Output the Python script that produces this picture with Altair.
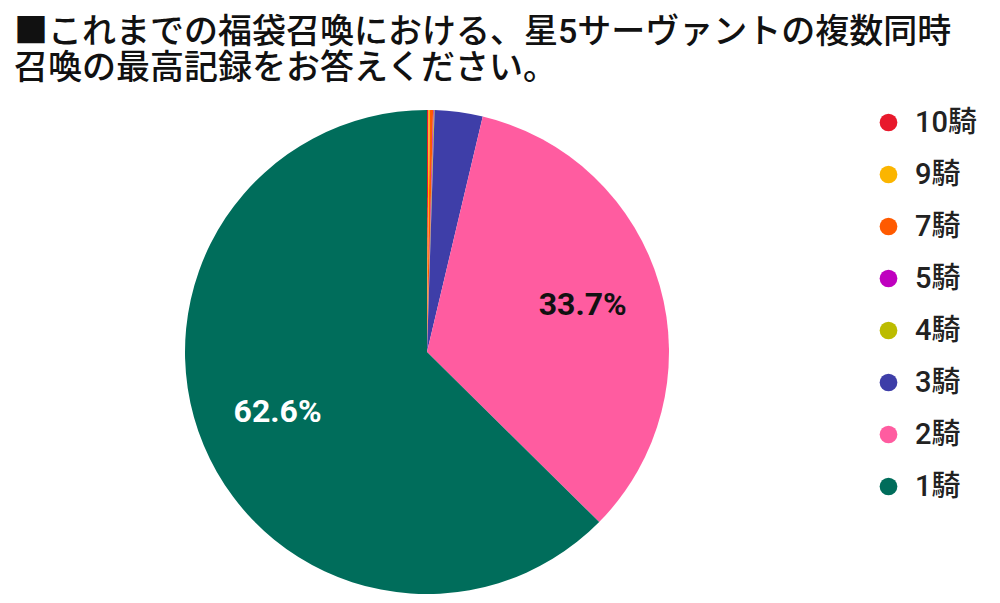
import altair as alt
import pandas as pd

categories = ["10騎", "9騎", "7騎", "5騎", "4騎", "3騎", "2騎", "1騎"]
values = [0.1, 0.1, 0.2, 0.05, 0.05, 3.2, 33.7, 62.6]
labels = ["", "", "", "", "", "", "33.7%", "62.6%"]
colors = ["#E8192C", "#FBB500", "#FF5A00", "#BF00BF", "#BCBC00", "#3E3EA8", "#FF5CA0", "#006D5B"]
title_lines = ["■これまでの福袋召喚における、星5サーヴァントの複数同時", "召喚の最高記録をお答えください。"]

df = pd.DataFrame({
    "category": categories,
    "value": values,
    "label": labels,
    "order": list(range(len(categories))),
})

FONT = "Roboto, Noto Sans CJK JP, sans-serif"
CX, CY, R = 419, 264, 242

base = alt.Chart(df).encode(
    theta=alt.Theta("value:Q", stack=True),
    order=alt.Order("order:Q", sort="ascending"),
)

pie = base.mark_arc(outerRadius=R).encode(
    x=alt.value(CX),
    y=alt.value(CY),
    color=alt.Color(
        "category:N",
        scale=alt.Scale(domain=categories, range=colors),
        sort=categories,
        legend=alt.Legend(
            title=None,
            orient="none",
            legendX=866,
            legendY=20,
            symbolType="circle",
            symbolSize=314,
            symbolStrokeWidth=0,
            labelFontSize=29,
            labelFont=FONT,
            labelFontWeight=500,
            labelColor="#222222",
            labelOffset=12,
            rowPadding=22,
        ),
    ),
)

text = base.mark_text(
    radius=162, fontSize=32, fontWeight="bold", font=FONT
).encode(
    x=alt.value(CX),
    y=alt.value(CY - 2),
    text="label:N",
    color=alt.condition(alt.datum.category == "1騎", alt.value("white"), alt.value("#111111")),
)

chart = alt.layer(pie, text).properties(
    width=984,
    height=507,
    padding={"left": 0, "top": 80, "right": 0, "bottom": 0},
    autosize=alt.AutoSizeParams(type="none"),
    title=alt.TitleParams(
        text=title_lines,
        anchor="start",
        frame="group",
        font=FONT,
        fontSize=34,
        fontWeight=500,
        color="#111111",
        lineHeight=36,
        offset=2,
        dx=6,
    ),
).configure_view(stroke=None)

chart.save("out.html", embed_options={"renderer": "svg", "actions": False})
